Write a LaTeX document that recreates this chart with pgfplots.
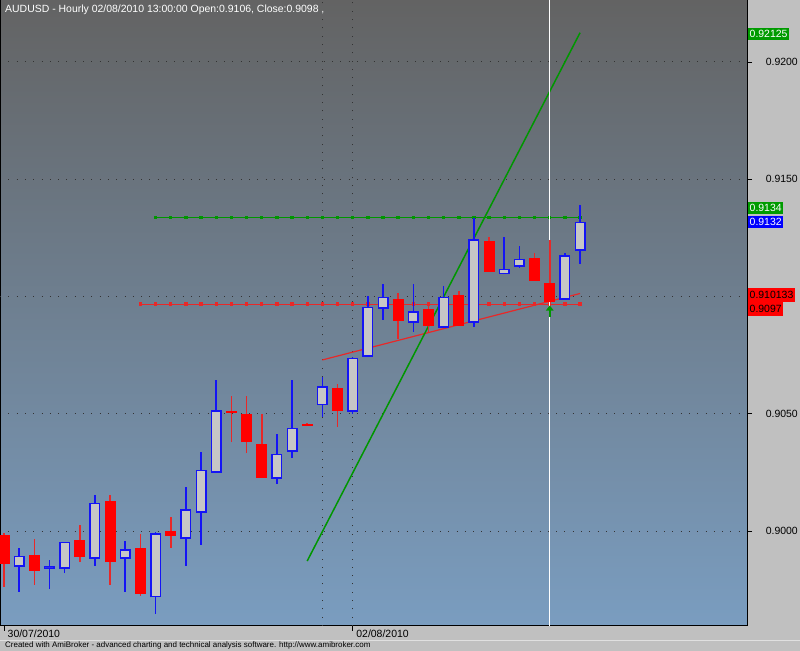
\documentclass[border=0pt]{standalone}
\usepackage{pgfplots}
\pgfplotsset{compat=1.18}
\usepackage{pgfplotstable}
\usepackage{fontspec}
\setmainfont{Liberation Sans}
\usetikzlibrary{arrows.meta}
\definecolor{panel}{RGB}{192,192,192}
\definecolor{bgtop}{RGB}{99,99,99}
\definecolor{bgbot}{RGB}{122,157,192}
\definecolor{upfill}{RGB}{198,198,198}
\definecolor{upline}{RGB}{20,20,245}
\definecolor{dnfill}{RGB}{255,0,0}
\definecolor{dnline}{RGB}{232,40,40}
\definecolor{lgreen}{RGB}{0,150,0}
\definecolor{boxgreen}{RGB}{0,155,0}
\definecolor{boxblue}{RGB}{0,0,255}
\definecolor{boxred}{RGB}{255,0,0}

% white (up) candles: index, open, high, low, close
\pgfplotstableread{
i o h l c
1 0.898474 0.899284 0.897409 0.898943
3 0.898389 0.898772 0.897536 0.898517
4 0.898389 0.899540 0.898218 0.899540
6 0.898815 0.901543 0.898517 0.901202
8 0.898815 0.899582 0.897409 0.899241
10 0.897195 0.899966 0.896471 0.899923
12 0.899668 0.901884 0.898517 0.900946
13 0.900776 0.903376 0.899412 0.902609
14 0.902481 0.906445 0.902481 0.905166
18 0.902225 0.904143 0.902012 0.903291
19 0.903376 0.906445 0.903120 0.904399
21 0.905379 0.906573 0.904868 0.906189
23 0.905081 0.907426 0.904996 0.907383
24 0.907426 0.910026 0.907426 0.909557
25 0.909472 0.910537 0.909003 0.909983
27 0.908875 0.910537 0.908491 0.909386
29 0.908662 0.910452 0.908662 0.909983
31 0.908875 0.913351 0.908704 0.912455
33 0.910963 0.912541 0.910963 0.911177
34 0.911262 0.912157 0.911219 0.911603
37 0.909855 0.911859 0.909855 0.911773
38 0.911944 0.913905 0.911390 0.913180
}\upbars

% red (down) candles: index, open, high, low, close
\pgfplotstableread{
i o h l c
0 0.899838 0.899923 0.897622 0.898602
2 0.898986 0.899668 0.897707 0.898304
5 0.899625 0.900264 0.898687 0.898900
7 0.901287 0.901543 0.897707 0.898687
9 0.899284 0.899881 0.897238 0.897323
11 0.900009 0.900605 0.899284 0.899795
15 0.905124 0.905763 0.903802 0.905038
16 0.904996 0.905763 0.903333 0.903802
17 0.903717 0.904996 0.902268 0.902268
20 0.904570 0.904612 0.904484 0.904484
22 0.906104 0.906275 0.904442 0.905124
26 0.909898 0.910154 0.908193 0.908960
28 0.909472 0.909727 0.908491 0.908747
30 0.910068 0.910239 0.908747 0.908747
32 0.912370 0.912541 0.911049 0.911049
35 0.911645 0.911859 0.910665 0.910665
36 0.910600 0.912413 0.909750 0.909750
}\downbars

\pgfplotsset{candle/.style={draw=none, mark=none,
  error bars/.cd, y dir=plus, y explicit, error mark=none}}

\begin{document}
\begin{tikzpicture}[font=\fontsize{10.5}{12}\selectfont]
\useasboundingbox (0,0) rectangle (800bp,651bp);
\fill[panel] (0,0) rectangle (800bp,651bp);
\draw[white!88!black, line width=0.8bp] (0,11bp) -- (800bp,11bp);
\begin{axis}[
  at={(0,25bp)}, anchor=south west,
  scale only axis, width=747bp, height=626bp,
  xmin=-0.2639, xmax=49.01, ymin=0.895959, ymax=0.922643,
  axis background/.style={top color=bgtop, bottom color=bgbot},
  axis line style={black, line width=1bp},
  ytick={0.900,0.905,0.915,0.920},
  extra y ticks={0.910}, extra y tick labels={},
  scaled y ticks=false,
  ytick pos=right, xtick pos=bottom,
  tick align=outside, major tick length=5bp,
  tick style={black, line width=0.8bp},
  ymajorgrids,
  grid style={black!80, line width=1bp, dash pattern=on 1bp off 7.3bp},
  /pgf/number format/assume math mode=true,
  yticklabel style={/pgf/number format/fixed, /pgf/number format/fixed zerofill,
    /pgf/number format/precision=4, anchor=east, inner sep=0pt, xshift=46bp},
  xtick={0,23}, xticklabels={30/07/2010,02/08/2010},
  xticklabel style={anchor=north west, inner sep=0pt, xshift=3.5bp, yshift=1bp},
  extra x ticks={21,23}, extra x tick labels={},
  extra x tick style={grid=major, major tick length=0pt},
  clip mode=individual,
]
% horizontal level lines
\addplot[lgreen, line width=1.2bp, mark=square*, mark size=1.1bp] coordinates {
(10,0.91337) (11,0.91337) (12,0.91337) (13,0.91337) (14,0.91337) (15,0.91337)
(16,0.91337) (17,0.91337) (18,0.91337) (19,0.91337) (20,0.91337) (21,0.91337)
(22,0.91337) (23,0.91337) (24,0.91337) (25,0.91337) (26,0.91337) (27,0.91337)
(28,0.91337) (29,0.91337) (30,0.91337) (31,0.91337) (32,0.91337) (33,0.91337)
(34,0.91337) (35,0.91337) (36,0.91337) (37,0.91337) (38,0.91337)};
\addplot[dnline, line width=1.2bp, mark=square*, mark size=1.1bp] coordinates {
(9,0.90968) (10,0.90968) (11,0.90968) (12,0.90968) (13,0.90968) (14,0.90968)
(15,0.90968) (16,0.90968) (17,0.90968) (18,0.90968) (19,0.90968) (20,0.90968)
(21,0.90968) (22,0.90968) (23,0.90968) (24,0.90968) (25,0.90968) (26,0.90968)
(27,0.90968) (28,0.90968) (29,0.90968) (30,0.90968) (31,0.90968) (32,0.90968)
(33,0.90968) (34,0.90968) (35,0.90968) (36,0.90968) (37,0.90968) (38,0.90968)};
% trend lines
\addplot[dnline, line width=1.2bp] coordinates {(21,0.90730) (38,0.910133)};
\addplot[lgreen, line width=1.5bp] coordinates {(20,0.89873) (38,0.92125)};
% selected bar line
\addplot[white, line width=1.3bp] coordinates {(36,0.895959) (36,0.922643)};
% wicks
\addplot[candle, error bar style={upline, line width=1.6bp}]
  table[x=i, y=l, y error expr=\thisrow{h}-\thisrow{l}] {\upbars};
\addplot[candle, error bar style={dnline, line width=1.6bp}]
  table[x=i, y=l, y error expr=\thisrow{h}-\thisrow{l}] {\downbars};
% bodies
\addplot[candle, error bar style={upline, line width=11bp}]
  table[x=i, y=o, y error expr=\thisrow{c}-\thisrow{o}] {\upbars};
\addplot[candle, error bar style={upfill, line width=8bp, shorten <=1.5bp, shorten >=1.5bp}]
  table[x=i, y=o, y error expr=\thisrow{c}-\thisrow{o}] {\upbars};
\addplot[candle, error bar style={dnfill, line width=11bp}]
  table[x=i, y=c, y error expr=\thisrow{o}-\thisrow{c}] {\downbars};
% buy arrow
\addplot[lgreen, line width=2.2bp, -{Triangle[width=7.5bp,length=5bp]}] coordinates {(36,0.90913) (36,0.90962)};
\end{axis}
% title and footer
\node[anchor=west, text=white, inner sep=0pt] at (5bp,641bp) {AUDUSD - Hourly 02/08/2010 13:00:00 Open:0.9106, Close:0.9098 ,};
\node[anchor=west, inner sep=0pt, font=\fontsize{8}{9}\selectfont] at (5bp,5.5bp) {Created with AmiBroker - advanced charting and technical analysis software. http://www.amibroker.com};
% value labels on the price scale
\node[anchor=west, fill=boxgreen, text=white, inner xsep=1.5bp, inner ysep=0pt, minimum height=12bp] at (748bp,617bp) {0.92125};
\node[anchor=west, fill=boxgreen, text=white, inner xsep=1.5bp, inner ysep=0pt, minimum height=12.5bp] at (748bp,443bp) {0.9134};
\node[anchor=west, fill=boxblue, text=white, inner xsep=1.5bp, inner ysep=0pt, minimum height=12.5bp] at (748bp,429bp) {0.9132};
\node[anchor=west, fill=boxred, text=black, inner xsep=1.5bp, inner ysep=0pt, minimum height=13.5bp] at (748bp,356bp) {0.910133};
\node[anchor=west, fill=boxred, text=black, inner xsep=1.5bp, inner ysep=0pt, minimum height=13.5bp] at (748bp,342bp) {0.9097};
\end{tikzpicture}
\end{document}
